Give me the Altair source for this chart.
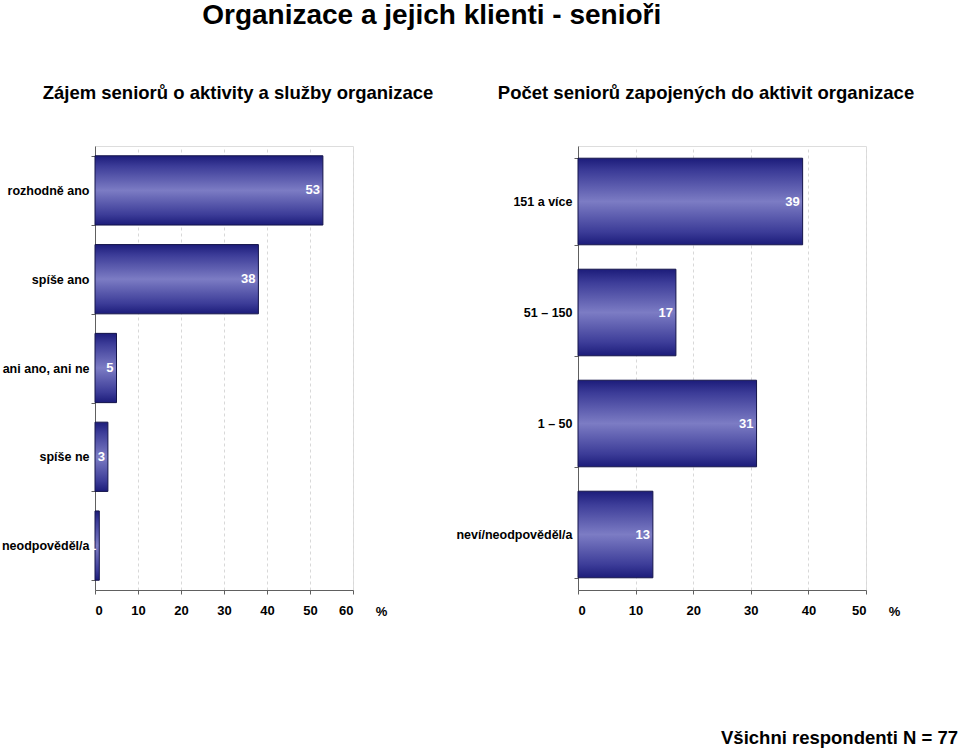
import altair as alt
import pandas as pd

main_title = "Organizace a jejich klienti - senioři"
footer = "Všichni respondenti N = 77"

left_title = "Zájem seniorů o aktivity a služby organizace"
left_cats = ["rozhodně ano", "spíše ano", "ani ano, ani ne", "spíše ne", "neodpověděl/a"]
left_vals = [53, 38, 5, 3, 1]
left_ticks = [0, 10, 20, 30, 40, 50, 60]

right_title = "Počet seniorů zapojených do aktivit organizace"
right_cats = ["151 a více", "51 – 150", "1 – 50", "neví/neodpověděl/a"]
right_vals = [39, 17, 31, 13]
right_ticks = [0, 10, 20, 30, 40, 50]

FONT = "Liberation Sans, Arial, sans-serif"
PLOT_H = 444

grad = alt.Gradient(
    gradient="linear",
    x1=0, x2=0, y1=0, y2=1,
    stops=[
        alt.GradientStop(offset=0, color="#1c1c7a"),
        alt.GradientStop(offset=0.15, color="#3c3c98"),
        alt.GradientStop(offset=0.5, color="#7c7cc4"),
        alt.GradientStop(offset=0.85, color="#3c3c98"),
        alt.GradientStop(offset=1, color="#1c1c7a"),
    ],
)


def panel(cats, vals, ticks, width, title, title_dx, with_footer=False):
    df = pd.DataFrame({"cat": cats, "val": vals})
    xmax = ticks[-1]
    y = alt.Y(
        "cat:N",
        sort=cats,
        scale=alt.Scale(paddingInner=0.22, paddingOuter=0.11),
        axis=alt.Axis(
            title=None,
            tickBand="extent",
            tickSize=4,
            tickColor="#606060",
            domainColor="#606060",
            labelPadding=2,
            labelFont=FONT,
            labelFontSize=12.5,
            labelFontWeight="bold",
            labelColor="black",
            labelLimit=200,
        ),
    )
    x = alt.X(
        "val:Q",
        scale=alt.Scale(domain=[0, xmax], nice=False),
        axis=alt.Axis(
            values=ticks,
            grid=True,
            gridDash=[3, 3],
            gridColor="#d8d8d8",
            tickSize=4,
            tickColor="#606060",
            domainColor="#606060",
            labelPadding=10,
            labelFont=FONT,
            labelFontSize=13,
            labelFontWeight="bold",
            labelColor="black",
            title="%",
            titleX=width + 28,
            titleY=21,
            titleAlign="center",
            titleBaseline="middle",
            titleFont=FONT,
            titleFontSize=13,
            titleFontWeight="bold",
            titleColor="black",
        ),
    )
    base = alt.Chart(df)
    bars = base.mark_bar(color=grad, stroke="#14144a", strokeWidth=1).encode(x=x, y=y)
    labels = base.mark_text(
        align="right", baseline="middle", dx=-3, color="white",
        font=FONT, fontSize=13, fontWeight="bold",
    ).encode(x=alt.X("val:Q"), y=alt.Y("cat:N", sort=cats), text="val:Q")
    layers = [bars, labels]
    if with_footer:
        foot = alt.Chart(pd.DataFrame({"t": [footer]})).mark_text(
            align="right", baseline="middle", font=FONT, fontSize=18.5,
            fontWeight="bold", color="black",
        ).encode(text="t:N", x=alt.value(width + 92), y=alt.value(PLOT_H + 148))
        layers.append(foot)
    return alt.layer(*layers).properties(
        width=width,
        height=PLOT_H,
        title=alt.TitleParams(
            title, font=FONT, fontSize=18.5, fontWeight="bold", color="black",
            anchor="middle", frame="group", dx=title_dx, offset=38,
        ),
    )


left = panel(left_cats, left_vals, left_ticks, 258, left_title, 14)
right = panel(right_cats, right_vals, right_ticks, 288, right_title, -16, with_footer=True)

chart = (
    alt.hconcat(left, right, spacing=21)
    .properties(
        title=alt.TitleParams(
            main_title, font=FONT, fontSize=28, fontWeight="bold", color="black",
            anchor="middle", dx=-48, offset=53,
        ),
        padding={"left": 0, "top": 2, "right": 0, "bottom": 0},
    )
    .configure_view(stroke="#808080", strokeWidth=1)
    .configure(background="white")
)

chart.save("out.html", embed_options={"renderer": "svg", "actions": False})
